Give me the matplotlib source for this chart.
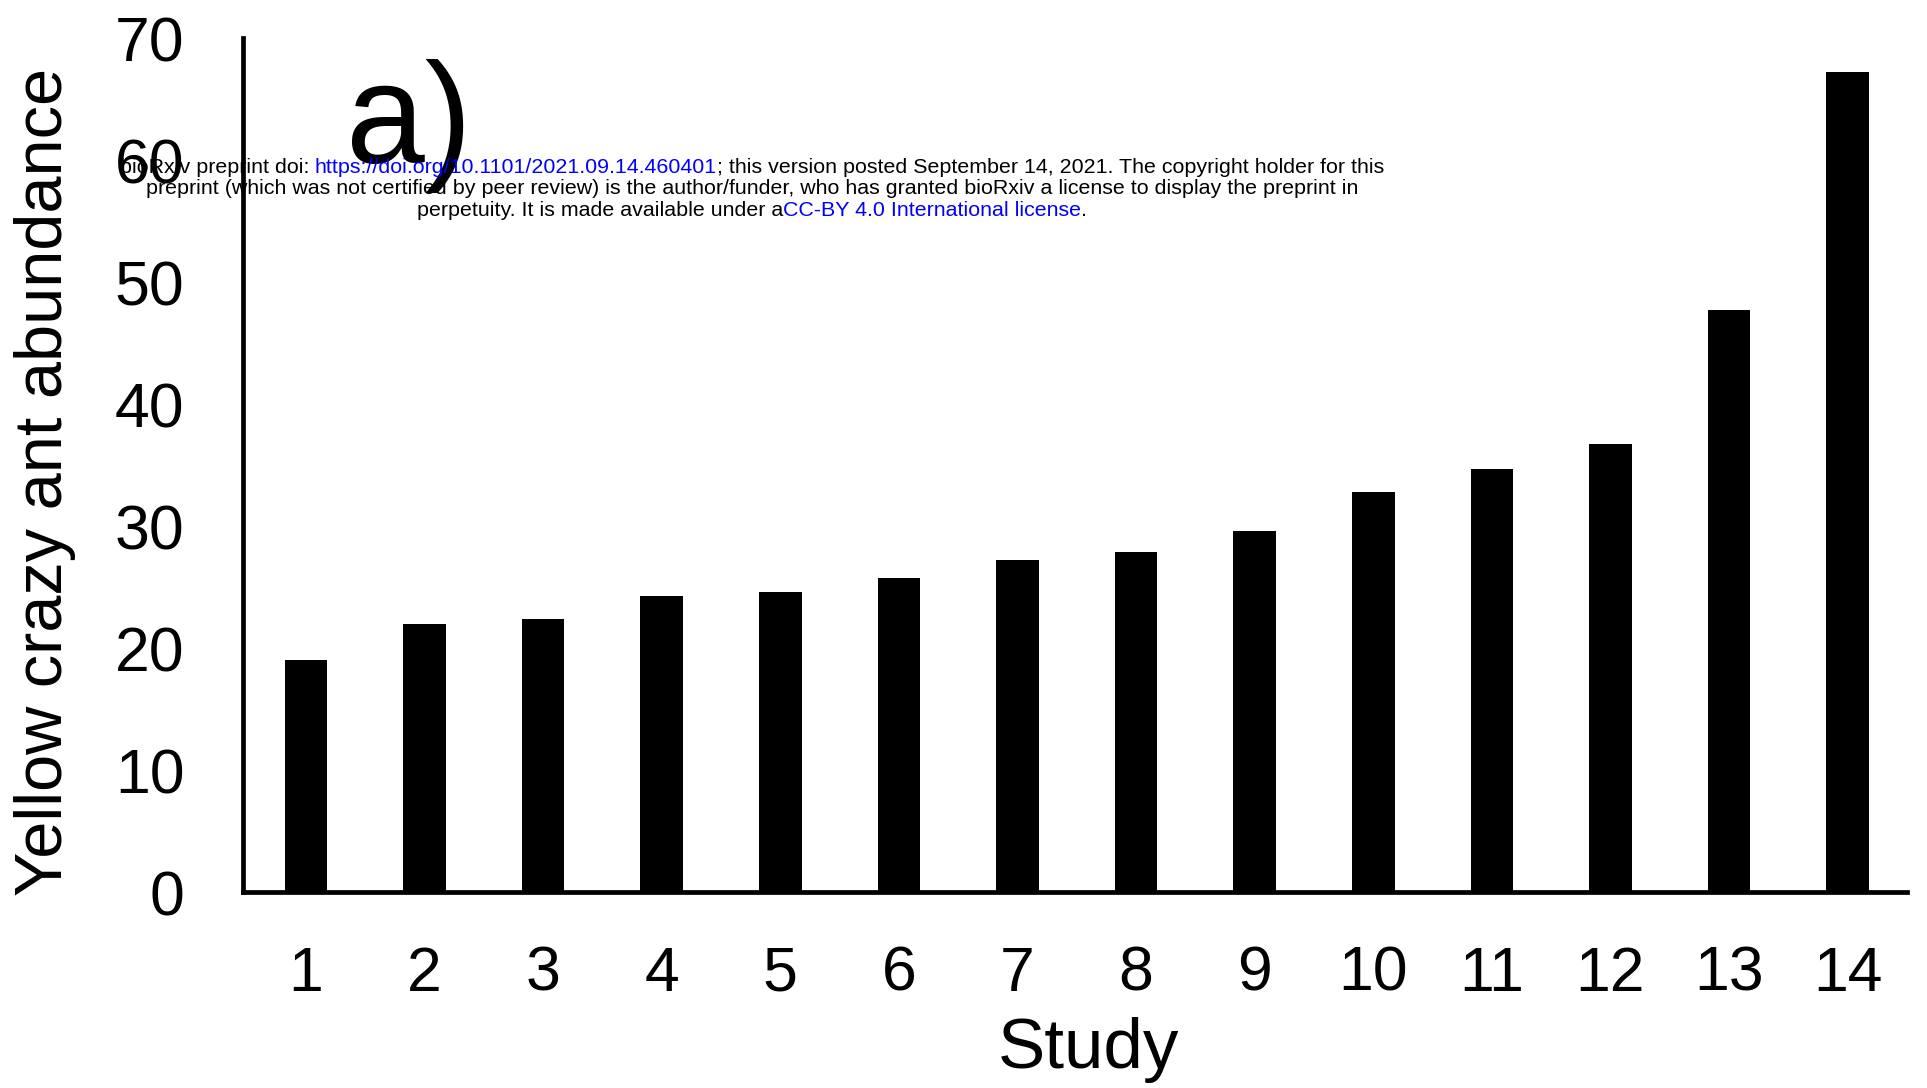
import matplotlib
matplotlib.use('Agg')
from matplotlib import pyplot as plt

plt.rcParams['font.family'] = ['Liberation Sans', 'DejaVu Sans']

studies = list(range(1, 15))
study_labels = [str(s) for s in studies]
abundance = [19.0, 22.0, 22.4, 24.3, 24.6, 25.7, 27.2, 27.9, 29.6, 32.8, 34.7, 36.7, 47.7, 67.2]
y_ticks = [0, 10, 20, 30, 40, 50, 60, 70]

header_lines = [
    [('bioRxiv preprint doi: ', 'black'),
     ('https://doi.org/10.1101/2021.09.14.460401', 'blue'),
     ('; this version posted September 14, 2021. The copyright holder for this', 'black')],
    [('preprint (which was not certified by peer review) is the author/funder, who has granted bioRxiv a license to display the preprint in', 'black')],
    [('perpetuity. It is made available under a', 'black'),
     ('CC-BY 4.0 International license', 'blue'),
     ('.', 'black')],
]

W, H = 1927, 1088
fig = plt.figure(figsize=(W / 100, H / 100), dpi=100)
ax = fig.add_axes([243 / W, 1 - 892 / H, (1907 - 243) / W, (892 - 38) / H])

ax.bar(studies, abundance, width=0.36, color='black', zorder=2)
ax.set_xlim(0.47, 14.5)
ax.set_ylim(0, 70)
ax.set_xticks(studies)
ax.set_xticklabels(study_labels)
ax.set_yticks(y_ticks)

for side in ['top', 'right']:
    ax.spines[side].set_visible(False)
for side in ['left', 'bottom']:
    ax.spines[side].set_linewidth(3.4)
    ax.spines[side].set_zorder(3)

ax.tick_params(axis='both', length=0, labelsize=45)
ax.tick_params(axis='y', pad=42)
ax.tick_params(axis='x', pad=38)

fig.text(1088 / W, 1 - 1068 / H, 'Study', fontsize=51, ha='center', va='baseline')
fig.text(45 / W, 1 - 482 / H, 'Yellow crazy ant abundance', rotation=90,
         fontsize=48, ha='center', va='center')

fig.text(346 / W, 1 - 163 / H, 'a)', fontsize=102, ha='left', va='baseline')

# preprint header, centred lines with coloured parts
renderer = fig.canvas.get_renderer()
centre_x = 752
line_y = [167, 189, 211]
for parts, y in zip(header_lines, line_y):
    pieces = []
    for txt, col in parts:
        t = fig.text(0, 1 - y / H, txt, fontsize=15.4, color=col, ha='left', va='center', zorder=10)
        pieces.append(t)
    widths = [p.get_window_extent(renderer).width for p in pieces]
    x = centre_x - sum(widths) / 2
    for p, w in zip(pieces, widths):
        p.set_x(x / W)
        x += w

fig.savefig('out.png', dpi=100)
